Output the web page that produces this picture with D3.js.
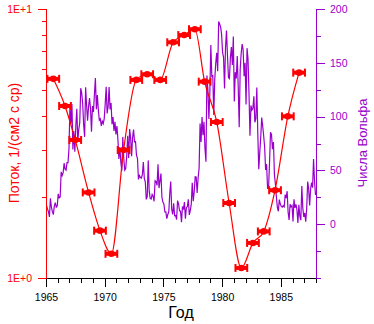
<!DOCTYPE html>
<html><head><meta charset="utf-8">
<script src="https://cdn.jsdelivr.net/npm/d3@7"></script>
<style>
html,body{margin:0;padding:0;background:#fff;}
svg{display:block;}
text{font-family:"Liberation Sans",Arial,sans-serif;}
</style></head>
<body>
<svg id="c" width="374" height="324"></svg>
<script>
// ---- data ----
// Flux measurements (years, value 1/(cm2 s sr))
const fluxYears = [1965.62,1966.62,1967.49,1968.63,1969.60,1970.57,1971.61,1972.69,1973.62,1974.73,1975.83,1976.77,1977.68,1978.51,1979.55,1980.60,1981.64,1982.63,1983.55,1984.51,1985.60,1986.56];
const fluxValues = [5.50,4.36,3.26,2.08,1.50,1.23,2.99,5.45,5.72,5.45,7.52,8.00,8.41,5.37,3.80,1.90,1.09,1.35,1.49,2.12,3.99,5.80];
// Monthly Wolf numbers, Jan 1965 .. Dec 1987
const wolfStartYear = 1965;
const wolfMonthly = [
 17.5,14.2,11.7,6.8,24.1,15.9,11.9,8.9,16.8,20.1,15.8,17.0,          // 1965
 28.2,24.4,25.3,48.7,45.3,47.7,56.7,51.2,50.2,57.2,57.2,70.4,        // 1966
 110.9,93.6,111.8,69.5,86.5,67.3,91.5,107.2,76.8,88.2,94.3,126.4,    // 1967
 121.8,111.9,92.2,81.2,127.2,110.3,96.1,109.3,117.2,107.7,86.0,109.8,// 1968
 104.4,120.5,135.8,106.8,120.0,106.0,96.8,98.0,91.3,95.7,93.5,97.9,  // 1969
 111.5,127.8,102.9,109.5,127.5,106.8,112.5,93.0,99.5,86.6,95.2,83.5, // 1970
 91.3,79.0,60.7,71.8,57.5,49.8,81.0,61.4,50.2,51.7,63.2,82.2,        // 1971
 61.5,88.4,80.1,63.2,80.5,88.0,76.5,76.8,64.0,61.3,41.6,45.3,        // 1972
 43.4,42.9,46.0,57.7,42.4,39.5,23.1,25.6,59.3,30.7,23.9,23.3,        // 1973
 27.6,26.0,21.3,40.3,39.5,36.0,55.8,33.6,40.2,47.1,25.0,20.5,        // 1974
 18.9,11.5,11.5,5.1,9.0,11.4,28.2,39.7,13.9,9.1,19.4,7.8,            // 1975
 8.1,4.3,21.9,18.8,12.4,12.2,1.9,16.4,13.5,20.6,5.2,15.3,            // 1976
 16.4,23.1,8.7,12.9,18.6,38.5,21.4,30.1,44.0,43.8,29.1,43.2,         // 1977
 51.9,93.6,76.5,99.7,82.7,95.1,70.4,58.1,138.2,125.1,97.9,122.7,     // 1978
 166.6,137.5,138.0,101.5,134.4,149.5,159.4,142.2,188.4,186.2,183.3,176.3, // 1979
 159.6,155.0,126.2,164.1,179.9,157.3,136.3,135.4,155.0,164.7,147.9,174.4, // 1980
 114.0,141.3,135.5,156.4,127.5,90.0,143.8,158.7,167.3,162.4,137.5,150.1,  // 1981
 111.2,163.6,153.8,122.0,82.2,110.4,106.1,107.6,118.8,94.7,98.1,127.0,    // 1982
 84.3,51.0,66.5,80.7,99.2,91.1,82.2,71.8,50.3,55.8,33.3,33.4,        // 1983
 57.0,85.4,83.5,69.7,76.4,46.1,37.4,25.5,15.7,12.0,22.8,18.7,        // 1984
 16.5,15.9,17.2,16.2,27.5,24.2,30.7,11.1,3.9,18.6,16.2,17.3,         // 1985
 2.5,23.2,15.1,18.5,13.7,1.1,18.1,7.4,3.8,35.4,15.2,6.8,             // 1986
 10.4,2.4,14.7,39.6,33.0,17.4,33.0,38.7,33.9,60.6,39.9,27.1          // 1987
];
const xTicks = [1965,1966,1967,1968,1969,1970,1971,1972,1973,1974,1975,1976,1977,1978,1979,1980,1981,1982,1983,1984,1985,1986,1987,1988];
const xTickLabels = ["1965","1970","1975","1980","1985"];
const leftTicks = [1,2,3,4,5,6,7,8,9,10];
const leftTickLabels = {1:"1E+0",10:"1E+1"};
const rightTicks = [-25,0,25,50,75,100,125,150,175,200];
const rightTickLabels = [0,50,100,150,200];

// ---- layout ----
const L=46,R=316,T=9,B=278;
const RED="#ff0000", PURPLE="#9900cc";
const svg=d3.select("#c");
const x=d3.scaleLinear().domain([1965,1988]).range([L,R]);
const yL=d3.scaleLog().domain([1,10]).range([B,T]);
const yR=d3.scaleLinear().domain([-50,200]).range([B,T]);

svg.append("defs").append("clipPath").attr("id","clip")
  .append("rect").attr("x",L).attr("y",T).attr("width",R-L).attr("height",B-T);

// Wolf numbers
const wolf = wolfMonthly.map((v,i)=>({t: wolfStartYear + (i+0.5)/12, v}));
svg.append("path").datum(wolf)
  .attr("clip-path","url(#clip)")
  .attr("fill","none").attr("stroke",PURPLE).attr("stroke-width",1.2)
  .attr("d", d3.line().x(d=>x(d.t)).y(d=>yR(d.v)).curve(d3.curveLinear));

// Flux curve
const flux = fluxYears.map((t,i)=>({t, v: fluxValues[i]}));
svg.append("path").datum(flux)
  .attr("fill","none").attr("stroke",RED).attr("stroke-width",1.2)
  .attr("d", d3.line().x(d=>x(d.t)).y(d=>yL(d.v)).curve(d3.curveMonotoneX));

// markers (horizontal bars)
const hw = x(1965.5)-x(1965);
const mk = svg.append("g").selectAll("g").data(flux).join("g")
  .attr("transform", d=>`translate(${x(d.t)},${yL(d.v)})`);
mk.append("rect").attr("x",-hw).attr("y",-2).attr("width",2*hw).attr("height",4).attr("fill",RED);
mk.append("rect").attr("x",-hw-1).attr("y",-4).attr("width",2).attr("height",8).attr("fill",RED);
mk.append("rect").attr("x",hw-1).attr("y",-4).attr("width",2).attr("height",8).attr("fill",RED);
mk.append("circle").attr("r",3.3).attr("fill",RED);

// ---- axes ----
// bottom
const gx = svg.append("g").attr("transform",`translate(0,${B})`)
  .call(d3.axisBottom(x).tickValues(xTicks).tickSizeOuter(0).tickSize(5)
    .tickFormat(d=> xTickLabels.includes(String(d)) ? String(d) : ""));
gx.select(".domain").attr("stroke","#000").attr("shape-rendering","crispEdges");
gx.selectAll(".tick line").attr("stroke","#000").attr("shape-rendering","crispEdges")
  .attr("y2", d=> d%5===0 ? 9 : 5);
gx.selectAll(".tick text").attr("fill","#000").attr("font-size",10.5).attr("y",16).attr("dy","0.71em")
  .attr("font-family","'Liberation Sans',Arial,sans-serif");

// left
const gl = svg.append("g").attr("transform",`translate(${L},0)`)
  .call(d3.axisLeft(yL).tickValues(leftTicks).tickSizeOuter(0).tickSize(4)
    .tickFormat(d=> leftTickLabels[d] || ""));
gl.select(".domain").attr("stroke",RED).attr("shape-rendering","crispEdges");
gl.selectAll(".tick line").attr("stroke",RED).attr("shape-rendering","crispEdges")
  .attr("x2", d=> (d===1||d===10) ? -8 : -4);
gl.selectAll(".tick text").attr("fill",RED).attr("font-size",10.5).attr("x",-14)
  .attr("font-family","'Liberation Sans',Arial,sans-serif");

// right
const gr = svg.append("g").attr("transform",`translate(${R},0)`)
  .call(d3.axisRight(yR).tickValues(rightTicks).tickSizeOuter(0).tickSize(5)
    .tickFormat(d=> rightTickLabels.includes(d) ? String(d) : ""));
gr.select(".domain").attr("stroke",PURPLE).attr("shape-rendering","crispEdges");
gr.selectAll(".tick line").attr("stroke",PURPLE).attr("shape-rendering","crispEdges")
  .attr("x2", d=> d%50===0 ? 9 : 5);
gr.selectAll(".tick text").attr("fill",PURPLE).attr("font-size",10.5).attr("x",14)
  .attr("font-family","'Liberation Sans',Arial,sans-serif");

// axis titles
svg.append("text").attr("transform","translate(19,143) rotate(-90)")
  .attr("text-anchor","middle").attr("fill",RED).attr("font-size",14)
  .text("Поток, 1/(см2 с ср)");
svg.append("text").attr("transform","translate(367,143) rotate(-90)")
  .attr("text-anchor","middle").attr("fill",PURPLE).attr("font-size",13)
  .text("Числа Вольфа");
svg.append("text").attr("x",(L+R)/2).attr("y",318)
  .attr("text-anchor","middle").attr("fill","#000").attr("font-size",16)
  .text("Год");
</script>
</body></html>
